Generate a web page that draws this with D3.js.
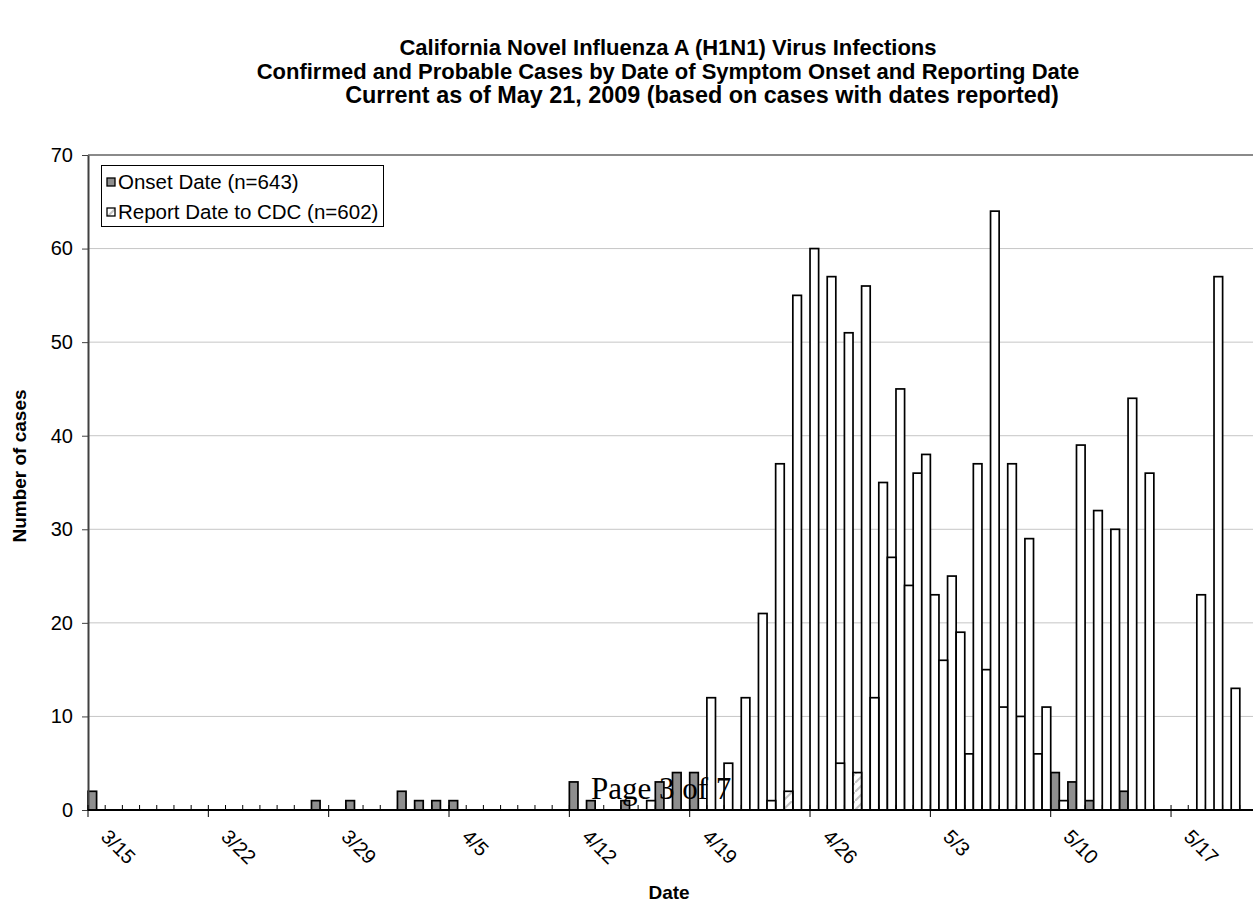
<!DOCTYPE html>
<html>
<head>
<meta charset="utf-8">
<script src="https://cdn.jsdelivr.net/npm/d3@7"></script>
<style>
body { margin: 0; background: #fff; }
svg { display: block; }
</style>
</head>
<body>
<svg id="chart"></svg>
<script>
// one category per day, 3/15 .. 5/21
const dates = [
    '3/15', '3/16', '3/17', '3/18', '3/19', '3/20', '3/21',
    '3/22', '3/23', '3/24', '3/25', '3/26', '3/27', '3/28',
    '3/29', '3/30', '3/31', '4/1', '4/2', '4/3', '4/4',
    '4/5', '4/6', '4/7', '4/8', '4/9', '4/10', '4/11',
    '4/12', '4/13', '4/14', '4/15', '4/16', '4/17', '4/18',
    '4/19', '4/20', '4/21', '4/22', '4/23', '4/24', '4/25',
    '4/26', '4/27', '4/28', '4/29', '4/30', '5/1', '5/2',
    '5/3', '5/4', '5/5', '5/6', '5/7', '5/8', '5/9',
    '5/10', '5/11', '5/12', '5/13', '5/14', '5/15', '5/16',
    '5/17', '5/18', '5/19', '5/20', '5/21'
]
const onsetCases = [
    2, 0, 0, 0, 0, 0, 0,
    0, 0, 0, 0, 0, 0, 1,
    0, 1, 0, 0, 2, 1, 1,
    1, 0, 0, 0, 0, 0, 0,
    3, 1, 0, 1, 0, 3, 4,
    4, 12, 5, 12, 21, 37, 55,
    60, 57, 51, 56, 35, 45, 36,
    23, 25, 6, 15, 11, 10, 6,
    4, 3, 1, 0, 2, 0, 0,
    0, 0, 0, 0, 0
]
const reportCases = [
    0, 0, 0, 0, 0, 0, 0,
    0, 0, 0, 0, 0, 0, 0,
    0, 0, 0, 0, 0, 0, 0,
    0, 0, 0, 0, 0, 0, 0,
    0, 0, 0, 0, 1, 0, 0,
    0, 0, 0, 0, 1, 2, 0,
    0, 5, 4, 12, 27, 24, 38,
    16, 19, 37, 64, 37, 29, 11,
    1, 39, 32, 30, 44, 36, 0,
    0, 23, 57, 13, 0
]
const seriesNames = ['Onset Date (n=643)', 'Report Date to CDC (n=602)']
const yTicks = [0, 10, 20, 30, 40, 50, 60, 70]
const dateTicks = ['3/15', '3/22', '3/29', '4/5', '4/12', '4/19', '4/26', '5/3', '5/10', '5/17']
const titleLines = [
    'California Novel Influenza A (H1N1) Virus Infections',
    'Confirmed and Probable Cases by Date of Symptom Onset and Reporting Date',
    'Current as of May 21, 2009 (based on cases with dates reported)'
]

const width = 1253, height = 903
const plot = {left: 88, right: 1257, top: 155, bottom: 810}
const gray = '#8e8e8e'
// in the scanned page the onset bars in this stretch lost their fill,
// and two report bars came out with a faint hatch
const unfilled = [dates.indexOf('4/20'), dates.indexOf('5/9')]
const hatched = ['4/24', '4/28']

const svg = d3.select('#chart')
              .attr('width', width)
              .attr('height', height)
              .attr('font-family', '"Liberation Sans", Arial, sans-serif')

const defs = svg.append('defs')
const pat = defs.append('pattern')
    .attr('id', 'hatch')
    .attr('patternUnits', 'userSpaceOnUse')
    .attr('width', 9).attr('height', 9)
pat.append('rect').attr('width', 9).attr('height', 9).attr('fill', 'white')
pat.append('path').attr('d', 'M0,9 L9,0').attr('stroke', '#c4c4c4').attr('stroke-width', 2)

const x = d3.scaleBand(dates, [plot.left, plot.right]).padding(0)
const xSeries = d3.scaleBand(['onset', 'report'], [0, x.bandwidth()]).padding(0)
const y = d3.scaleLinear([0, 70], [plot.bottom, plot.top])

// gridlines (the 70 line is the plot border)
svg.append('g')
   .selectAll('line')
   .data(yTicks.filter(t => t > 0))
   .join('line')
     .attr('x1', plot.left).attr('x2', plot.right)
     .attr('y1', d => y(d)).attr('y2', d => y(d))
     .attr('stroke', d => d == 70 ? '#8a8a8a' : '#c6c6c6')
     .attr('stroke-width', d => d == 70 ? 2 : 1)

// bars
const rows = dates.map((d, i) => ({date: d, i: i, onset: onsetCases[i], report: reportCases[i]}))

function onsetFill(r) {
    return (r.i >= unfilled[0] && r.i <= unfilled[1]) ? 'white' : gray
}

svg.append('g')
   .selectAll('rect')
   .data(rows.filter(r => r.onset > 0))
   .join('rect')
     .attr('x', r => x(r.date) + xSeries('onset'))
     .attr('width', xSeries.bandwidth())
     .attr('y', r => y(r.onset))
     .attr('height', r => y(0) - y(r.onset))
     .attr('fill', onsetFill)
     .attr('stroke', 'black')
     .attr('stroke-width', 1.7)

svg.append('g')
   .selectAll('rect')
   .data(rows.filter(r => r.report > 0))
   .join('rect')
     .attr('x', r => x(r.date) + xSeries('report'))
     .attr('width', xSeries.bandwidth())
     .attr('y', r => y(r.report))
     .attr('height', r => y(0) - y(r.report))
     .attr('fill', r => hatched.includes(r.date) ? 'url(#hatch)' : 'white')
     .attr('stroke', 'black')
     .attr('stroke-width', 1.7)

// y axis
const yAxis = svg.append('g')
   .attr('transform', `translate(${plot.left},0)`)
   .call(d3.axisLeft(y).tickValues(yTicks).tickSize(6).tickPadding(9).tickSizeOuter(0))
yAxis.select('.domain').attr('stroke', '#404040').attr('stroke-width', 2)
yAxis.selectAll('.tick line').attr('stroke', '#404040')
yAxis.selectAll('text').attr('font-size', 20).attr('fill', 'black')

// x axis: minor ticks every day pointing up, major ticks every week pointing down
const half = x.bandwidth() / 2
svg.append('g')
   .attr('transform', `translate(${-half},${plot.bottom})`)
   .call(d3.axisBottom(x).tickValues(dates).tickSize(-5).tickFormat(''))
   .call(g => g.select('.domain').remove())

const xAxis = svg.append('g')
   .attr('transform', `translate(${-half},${plot.bottom})`)
   .call(d3.axisBottom(x).tickValues(dateTicks).tickSize(7))
xAxis.select('.domain').remove()
xAxis.selectAll('.tick line').attr('stroke', 'black')
xAxis.selectAll('text')
     .attr('font-size', 20)
     .attr('fill', 'black')
     .attr('x', 28).attr('y', 11.5).attr('dy', 0)
     .attr('transform', 'rotate(45)')
     .attr('text-anchor', 'start')

svg.append('line')
   .attr('x1', plot.left).attr('x2', plot.right)
   .attr('y1', plot.bottom).attr('y2', plot.bottom)
   .attr('stroke', 'black').attr('stroke-width', 2)

// legend
const legend = svg.append('g')
legend.append('rect')
      .attr('x', 101.5).attr('y', 165.5).attr('width', 282).attr('height', 61)
      .attr('fill', 'white').attr('stroke', 'black')
legend.selectAll('g')
      .data(seriesNames)
      .join('g')
        .attr('transform', (d, i) => `translate(107,${178 + i * 30})`)
        .call(g => g.append('rect')
                    .attr('width', 8).attr('height', 8)
                    .attr('fill', (d, i) => i == 0 ? gray : 'url(#hatch)')
                    .attr('stroke', 'black').attr('stroke-width', 1.3))
        .call(g => g.append('text')
                    .attr('x', 11).attr('y', 11)
                    .attr('font-size', 20.5)
                    .text(d => d))

// titles (the last line sits a little right of centre in the original)
svg.append('g')
   .selectAll('text')
   .data(titleLines)
   .join('text')
     .attr('x', (d, i) => i == 2 ? 702 : 668)
     .attr('y', (d, i) => 55 + i * 24)
     .attr('text-anchor', 'middle')
     .attr('font-weight', 'bold')
     .attr('font-size', (d, i) => i == 2 ? 23.4 : 22)
     .text(d => d)

svg.append('text')
   .attr('transform', 'translate(26,466) rotate(-90)')
   .attr('text-anchor', 'middle')
   .attr('font-weight', 'bold')
   .attr('font-size', 19)
   .text('Number of cases')

svg.append('text')
   .attr('x', 669).attr('y', 899)
   .attr('text-anchor', 'middle')
   .attr('font-weight', 'bold')
   .attr('font-size', 19)
   .text('Date')

// page footer printed over the chart
svg.append('text')
   .attr('x', 591).attr('y', 799)
   .attr('font-family', '"Liberation Serif", "Times New Roman", serif')
   .attr('font-size', 31)
   .text('Page 3 of 7')
</script>
</body>
</html>
